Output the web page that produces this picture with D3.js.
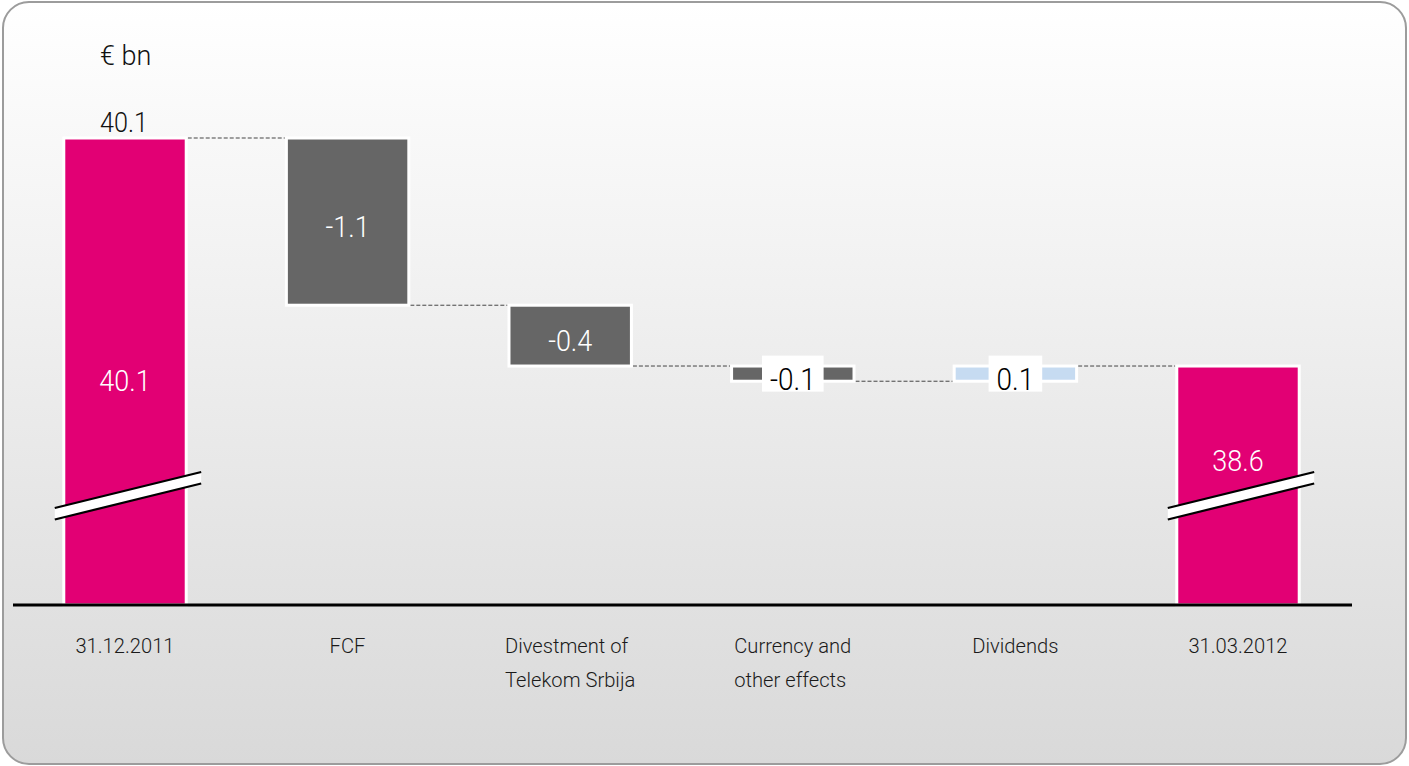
<!DOCTYPE html>
<html><head><meta charset="utf-8">
<script src="https://cdn.jsdelivr.net/npm/d3@7"></script>
<style>
html,body{margin:0;padding:0;background:#ffffff;}
svg{display:block;}
text{font-family:Roboto,"Liberation Sans",sans-serif;font-weight:300;}
</style></head>
<body>
<svg id="chart" width="1409" height="766"></svg>
<script>
// ---- data ----
const categories = ["31.12.2011", "FCF", "Divestment of\nTelekom Srbija", "Currency and\nother effects", "Dividends", "31.03.2012"];
const values = [40.1, -1.1, -0.4, -0.1, 0.1, 38.6];
const kinds = ["total", "delta", "delta", "delta", "delta", "total"];
const valueLabels = ["40.1", "-1.1", "-0.4", "-0.1", "0.1", "38.6"];
const unitLabel = "€ bn";

// ---- build waterfall ----
let running = 0;
const bars = categories.map((c, i) => {
  let lo, hi, start, end;
  if (kinds[i] === "total") { start = values[i]; end = values[i]; lo = null; hi = values[i]; running = values[i]; }
  else { start = running; end = running + values[i]; lo = Math.min(start, end); hi = Math.max(start, end); running = end; }
  return {cat: c, i, kind: kinds[i], v: values[i], lo, hi, start, end, label: valueLabels[i]};
});

const W = 1409, H = 766;
const SX = 0.9;   // horizontal condensing of value text
const SXC = 0.96; // category label condensing
const svg = d3.select("#chart");
const defs = svg.append("defs");
const grad = defs.append("linearGradient").attr("id", "bg").attr("x1", 0).attr("y1", 0).attr("x2", 0).attr("y2", 1);
grad.append("stop").attr("offset", "0%").attr("stop-color", "#ffffff");
grad.append("stop").attr("offset", "100%").attr("stop-color", "#d9d9d9");

svg.append("rect").attr("x", 3).attr("y", 2).attr("width", W - 6).attr("height", H - 4)
  .attr("rx", 26).attr("ry", 26).attr("fill", "url(#bg)").attr("stroke", "#9c9c9c").attr("stroke-width", 2);

function addText(parent, x, y, str, size, fill, anchor, sx) {
  const g = parent.append("g").attr("transform", `translate(${x},${y}) scale(${sx || SX},1)`);
  return g.append("text").attr("x", 0).attr("y", 0).attr("font-size", size).attr("fill", fill)
    .attr("text-anchor", anchor || "middle").text(str);
}

const baseY = 605;
const x = d3.scaleBand().domain(categories).range([13.7, 1349.3]).paddingInner(0.45).paddingOuter(0.225);
const y = d3.scaleLinear().domain([37.028, 40.1]).range([baseY, 138]);

const colors = {total: "#e20074", neg: "#666666", pos: "#c6dbf1"};
const bw = x.bandwidth();

// connectors
const conn = svg.append("g");
for (let i = 0; i < bars.length - 1; i++) {
  const b = bars[i];
  const level = b.kind === "total" ? b.hi : b.end;
  conn.append("line")
    .attr("x1", x(b.cat) + bw + 1.5).attr("x2", x(bars[i + 1].cat) - 1.5)
    .attr("y1", y(level)).attr("y2", y(level))
    .attr("stroke", "#444").attr("stroke-width", 1).attr("stroke-dasharray", "4,2");
}

// bars
const g = svg.append("g");
g.selectAll("rect.bar").data(bars).join("rect").attr("class", "bar")
  .attr("x", d => x(d.cat))
  .attr("width", bw)
  .attr("y", d => y(d.hi))
  .attr("height", d => d.kind === "total" ? baseY - y(d.hi) : y(d.lo) - y(d.hi))
  .attr("fill", d => d.kind === "total" ? colors.total : (d.v < 0 ? colors.neg : colors.pos))
  .attr("stroke", "#ffffff").attr("stroke-width", 3);

// axis baseline
svg.append("line").attr("x1", 13).attr("x2", 1352).attr("y1", baseY).attr("y2", baseY)
  .attr("stroke", "#000").attr("stroke-width", 3);

// break marks on total bars
bars.filter(d => d.kind === "total").forEach(d => {
  const xl = x(d.cat) - 9, xr = x(d.cat) + bw + 15;
  const yl = baseY - 97, yr = baseY - 133, h = 11.5;
  const bg = svg.append("g");
  bg.append("path").attr("d", `M${xl},${yl} L${xr},${yr} L${xr},${yr + h} L${xl},${yl + h} Z`).attr("fill", "#ffffff");
  bg.append("line").attr("x1", xl).attr("y1", yl).attr("x2", xr).attr("y2", yr).attr("stroke", "#000").attr("stroke-width", 2.2);
  bg.append("line").attr("x1", xl).attr("y1", yl + h).attr("x2", xr).attr("y2", yr + h).attr("stroke", "#000").attr("stroke-width", 2.2);
});

// value labels
const fs = 30;
const lab = svg.append("g");
bars.forEach(d => {
  const cx = x(d.cat) + bw / 2;
  if (d.kind === "total") {
    const by = d.i === 0 ? 391 : 471;
    addText(lab, cx, by, d.label, fs, "#ffffff");
  } else {
    const cy = (y(d.hi) + y(d.lo)) / 2;
    if (Math.abs(d.v) >= 0.2) {
      addText(lab, cx, cy + 15, d.label, fs, "#ffffff");
    } else {
      const rg = lab.append("g");
      const t = addText(rg, cx, cy + 16, d.label, fs + 1, "#000");
      const w = t.node().getBBox().width * SX;
      rg.insert("rect", ":first-child").attr("x", cx - (w + 16) / 2).attr("y", cy - 18)
        .attr("width", w + 16).attr("height", 36).attr("fill", "#ffffff");
    }
  }
});
// label above first bar
addText(lab, x(bars[0].cat) + bw / 2 - 1, 132, bars[0].label, 28, "#111");

// unit
addText(svg, 100, 65, unitLabel, 27, "#111", "start", 1);

// category labels
const cl = svg.append("g");
categories.forEach(c => {
  const lines = c.split("\n");
  const cx = x(c) + bw / 2;
  const gg = cl.append("g");
  const t = gg.append("text").attr("font-size", 21).attr("fill", "#1a1a1a");
  lines.forEach((ln, k) => t.append("tspan").attr("x", 0).attr("y", 653 + k * 34).text(ln));
  const w = t.node().getBBox().width * SXC;
  gg.attr("transform", `translate(${cx - w / 2},0) scale(${SXC},1)`);
});
</script>
</body></html>
